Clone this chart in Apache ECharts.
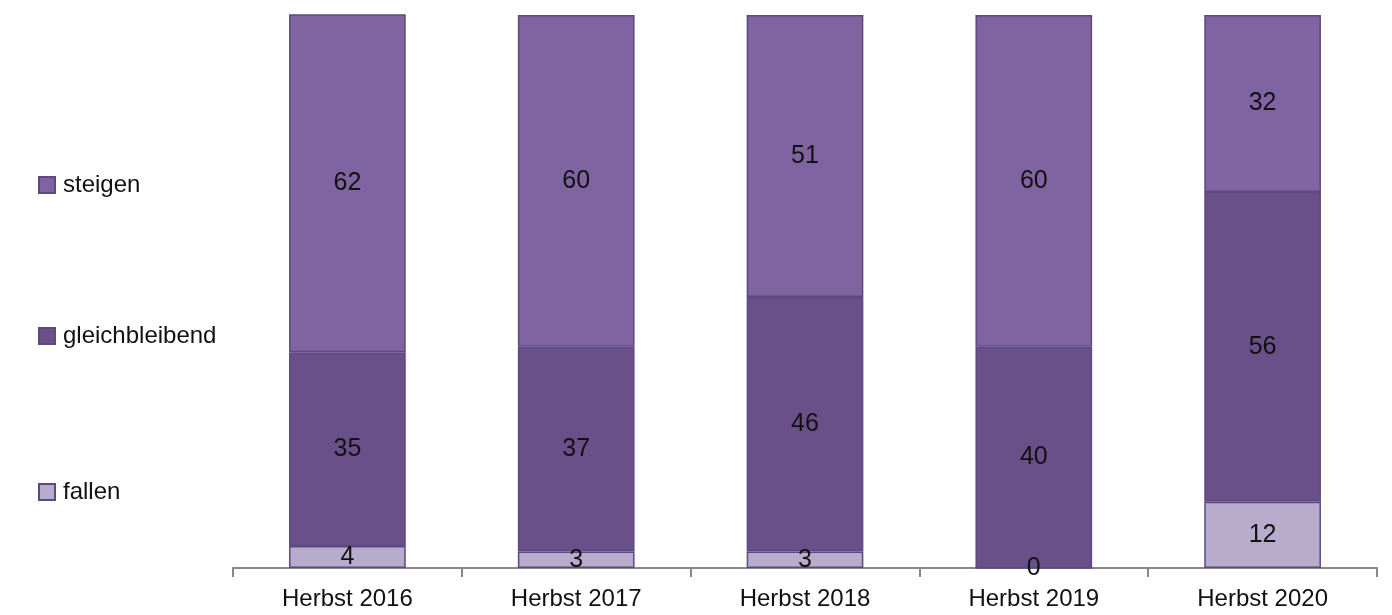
<!DOCTYPE html>
<html>
<head>
<meta charset="utf-8">
<script src="https://cdn.jsdelivr.net/npm/echarts@6/dist/echarts.min.js"></script>
<style>
html,body{margin:0;padding:0;background:#fff;}
#main{width:1392px;height:615px;}
</style>
</head>
<body>
<div id="main"></div>
<script>
var categories = ['Herbst 2016','Herbst 2017','Herbst 2018','Herbst 2019','Herbst 2020'];
var fallen = [4, 3, 3, 0, 12];
var gleichbleibend = [35, 37, 46, 40, 56];
var steigen = [62, 60, 51, 60, 32];

var FONT = "'Liberation Sans', Arial, sans-serif";

function makeSeries(name, arr, color){
    return {
        name: name,
        type: 'bar',
        stack: 'total',
        barWidth: '51%',
        data: arr,
        itemStyle: {
            color: color,
            borderColor: '#5e4883',
            borderWidth: 1.5
        },
        label: {
            show: true,
            position: 'inside',
            color: '#111',
            fontSize: 25,
            fontFamily: FONT
        }
    };
}

function makeLegend(name, top){
    return {
        orient: 'vertical',
        left: 33,
        top: top,
        itemWidth: 16,
        itemHeight: 16,
        icon: 'rect',
        itemGap: 0,
        data: [name],
        textStyle: {
            fontSize: 24,
            color: '#111',
            fontFamily: FONT,
            padding: [0,0,0,3]
        }
    };
}

var myChart = echarts.init(document.getElementById('main'));
var option = {
    animation: false,
    legend: [
        makeLegend('steigen', 168),
        makeLegend('gleichbleibend', 319),
        makeLegend('fallen', 475)
    ],
    grid: {
        left: 233,
        right: 15,
        top: 15,
        bottom: 47
    },
    xAxis: {
        type: 'category',
        data: categories,
        axisLine: { lineStyle: { color: '#888', width: 2 } },
        axisTick: { show: true, length: 9, lineStyle: { color: '#888', width: 2 } },
        axisLabel: {
            color: '#111',
            fontSize: 24,
            fontFamily: FONT,
            margin: 19
        }
    },
    yAxis: {
        type: 'value',
        min: 0,
        max: 100,
        show: false,
        splitLine: { show: false }
    },
    series: [
        makeSeries('fallen', fallen, '#b8accc'),
        makeSeries('gleichbleibend', gleichbleibend, '#6a5089'),
        makeSeries('steigen', steigen, '#8064a2')
    ]
};
myChart.setOption(option);
</script>
</body>
</html>
